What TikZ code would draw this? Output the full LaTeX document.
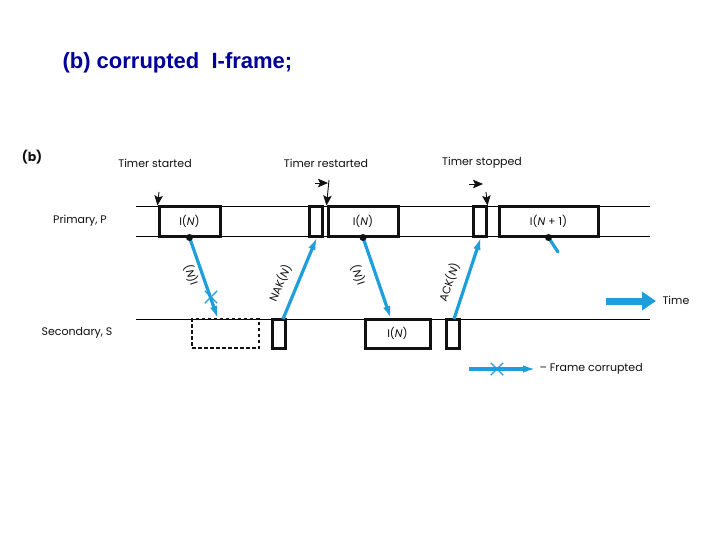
\documentclass[tikz,border=0pt]{standalone}
\usepackage{fontspec}
\newfontfamily\figfont{Poppins}
\newfontfamily\headfont{Liberation Sans}
\usetikzlibrary{arrows.meta,shapes.misc}

\begin{document}
\begin{tikzpicture}[x=1pt, y=-1pt, >=Latex, every node/.style={font=\figfont\fontsize{11}{13}\selectfont, text=Ink},
  frame/.style={draw=Ink, line width=3pt, minimum height=29pt, inner sep=0pt},
  lost/.style={draw=Ink, dash pattern=on 3.5pt off 2.5pt, line width=1.3pt, minimum height=29pt, inner sep=0pt},
  wire/.style={draw=Wire, line width=3.2pt, -{Latex[length=13pt,width=7.5pt]}},
  tick/.style={draw=Ink, line width=0.9pt, -{Stealth[length=10pt,width=8.5pt,inset=2pt]}},
  dot/.style={circle, fill=Ink, inner sep=0pt, minimum size=7pt},
  hit/.style={cross out, draw=Wire, line width=1.3pt, minimum size=11pt, inner sep=0pt}]
\definecolor{Ink}{HTML}{111111}\definecolor{Wire}{HTML}{1E9FDC}\definecolor{Navy}{HTML}{000099}
\useasboundingbox[fill=white] (0,0) rectangle (720,540);
\node[anchor=west, font=\headfont\bfseries\fontsize{22}{26}\selectfont, text=Navy] (title) at (59,63) {(b) corrupted\ \ I-frame;};
\node[font=\figfont\bfseries\fontsize{12.5}{15}\selectfont] (tag) at (32,157) {(b)};
% time lines
\coordinate (pA) at (136,207); \coordinate (pB) at (650,207); \coordinate (pC) at (136,236); \coordinate (pD) at (650,236);
\coordinate (sA) at (136,319); \coordinate (sB) at (650,319);
\draw[line width=1pt] (pA)--(pB) (pC)--(pD) (sA)--(sB);
\node (prim) at (80,221) {Primary, P};
\node (sec) at (77,333) {Secondary, S};
% frames
\node[frame, minimum width=61pt] (pI1) at (189.5,221.5) {I(\textit{N})};
\node[frame, minimum width=13pt] (pN1) at (315.5,221.5) {};
\node[frame, minimum width=70pt] (pI2) at (363,221.5) {I(\textit{N})};
\node[frame, minimum width=13pt] (pA1) at (479.5,221.5) {};
\node[frame, minimum width=99pt] (pI3) at (548.5,221.5) {I(\textit{N} + 1)};
\node[lost, minimum width=67pt] (sLost) at (225.5,333.5) {};
\node[frame, minimum width=13pt] (sN) at (278.5,333.5) {};
\node[frame, minimum width=65pt] (sI) at (397.5,333.5) {I(\textit{N})};
\node[frame, minimum width=13pt] (sA1) at (452.5,333.5) {};
% timer marks
\node (tStart) at (155,163) {Timer started};
\node (tRe) at (326,163) {Timer restarted};
\node (tStop) at (482,163) {Timer stopped};
\coordinate (c1) at (159,192); \coordinate (c2) at (329,180); \coordinate (c3) at (486,192);
\draw[tick] (c1)--(pI1.north west);
\draw[tick] (c2)--(pI2.north west);
\draw[tick] (c3)--(pA1.north east);
\coordinate (r1) at (315,183); \coordinate (r2) at (328,183); \coordinate (r3) at (469,184); \coordinate (r4) at (483,184);
\draw[tick] (r1)--(r2); \draw[tick] (r3)--(r4);
% frames in flight
\coordinate (e1) at (218,319); \coordinate (b2) at (283,319); \coordinate (e2) at (317,237);
\coordinate (e3) at (391,319); \coordinate (b4) at (454,319); \coordinate (e4) at (481,237); \coordinate (e5) at (558,252);
\draw[wire] (pI1.south)--(e1);
\draw[wire] (b2)--(e2);
\draw[wire] (pI2.south)--(e3);
\draw[wire] (b4)--(e4);
\draw[draw=Wire, line width=3.2pt, line cap=round] (pI3.south)--(e5);
\node[hit] (x1) at (211,297) {};
\node[dot] (d1) at (pI1.south) {}; \node[dot] (d2) at (pI2.south) {}; \node[dot] (d3) at (pI3.south) {};
\node[rotate=109] (l1) at (191,275) {I(\textit{N})};
\node[rotate=67] (l2) at (280,283) {NAK(\textit{N})};
\node[rotate=109] (l3) at (358,275) {I(\textit{N})};
\node[rotate=71] (l4) at (449,282) {ACK(\textit{N})};
% time and key
\coordinate (t0) at (606,301); \coordinate (t1) at (656,301);
\draw[draw=Wire, line width=7pt, -{Triangle[length=14pt,width=18pt]}] (t0)--(t1);
\node[anchor=west] (time) at (659,300) {Time};
\coordinate (k0) at (469,369); \coordinate (k1) at (536,369);
\draw[wire] (k0)--(k1);
\node[hit] (x2) at (497,369) {};
\node[anchor=west] (key) at (536,369) {\textendash{} Frame corrupted};
\end{tikzpicture}
\end{document}
